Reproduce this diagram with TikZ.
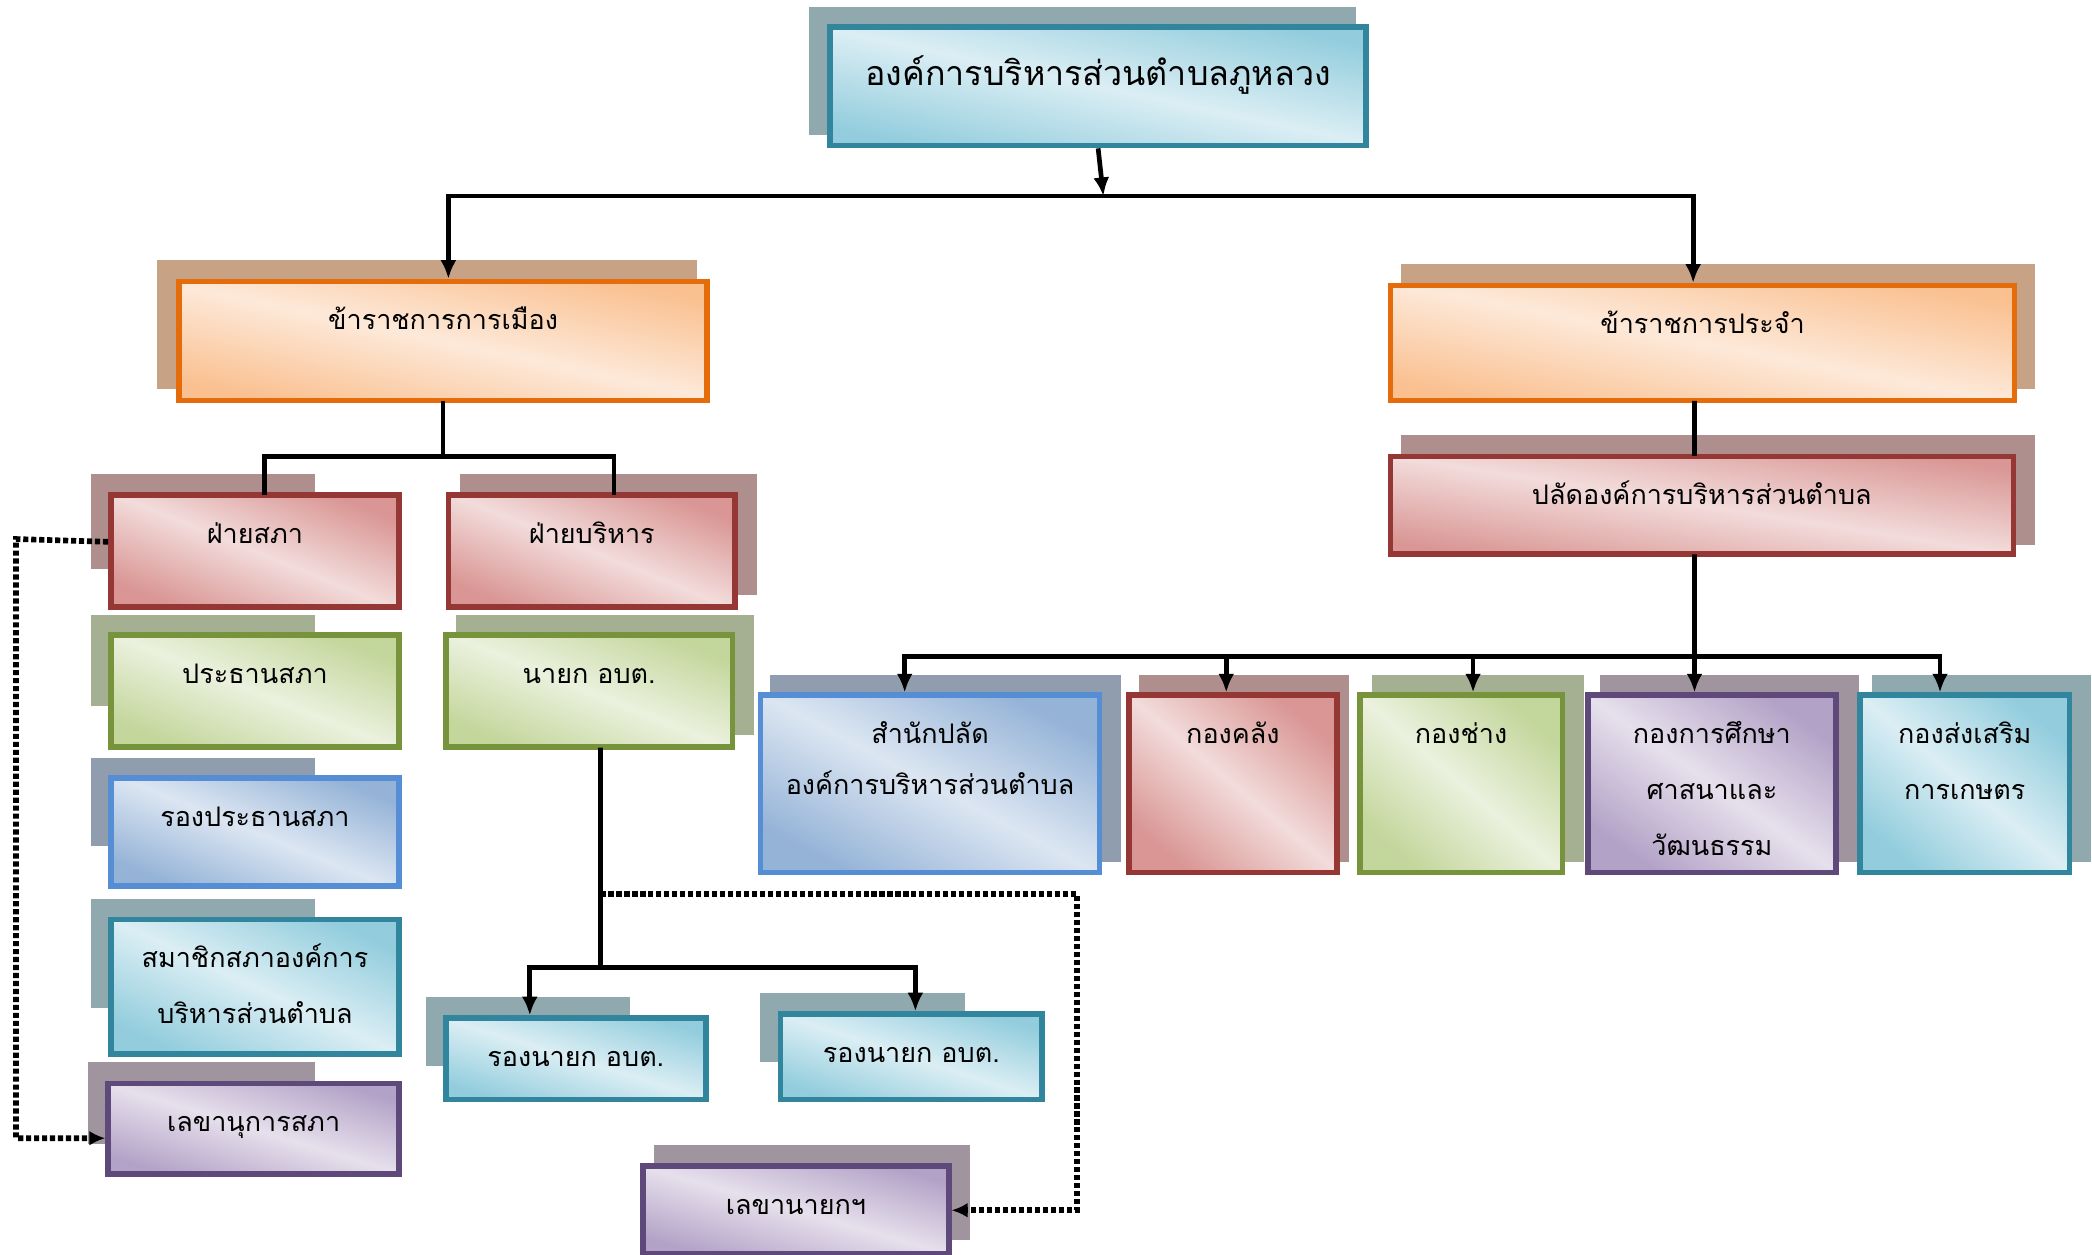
\documentclass[tikz,border=0pt]{standalone}
\usepackage{fontspec}
\newfontfamily\thaifont[Script=Thai]{Loma}
\usetikzlibrary{calc}
\usetikzlibrary{backgrounds}
\usetikzlibrary{arrows.meta}

\definecolor{tealline}{HTML}{31859C}
\definecolor{teallight}{HTML}{DBEEF4}
\definecolor{tealdark}{HTML}{93CDDD}
\definecolor{tealshadow}{HTML}{8FA9AE}
\definecolor{orangeline}{HTML}{E46C0A}
\definecolor{orangelight}{HTML}{FDE9D9}
\definecolor{orangedark}{HTML}{FAC090}
\definecolor{orangeshadow}{HTML}{C8A284}
\definecolor{redline}{HTML}{953735}
\definecolor{redlight}{HTML}{F2DCDB}
\definecolor{reddark}{HTML}{D99694}
\definecolor{redshadow}{HTML}{AE8F8E}
\definecolor{greenline}{HTML}{77933C}
\definecolor{greenlight}{HTML}{EBF1DE}
\definecolor{greendark}{HTML}{C3D69B}
\definecolor{greenshadow}{HTML}{A5AF92}
\definecolor{blueline}{HTML}{558ED5}
\definecolor{bluelight}{HTML}{DCE6F2}
\definecolor{bluedark}{HTML}{95B3D7}
\definecolor{blueshadow}{HTML}{909DAE}
\definecolor{purpleline}{HTML}{5F497A}
\definecolor{purplelight}{HTML}{E6E0EC}
\definecolor{purpledark}{HTML}{B3A2C7}
\definecolor{purpleshadow}{HTML}{A0949F}

\begin{document}
\begin{tikzpicture}[x=0.02cm, y=-0.02cm, font=\thaifont\fontsize{11.5}{24}\selectfont]
    \tikzstyle{box}=[rectangle, anchor=north west, inner sep=0pt, line width=2.4pt, align=center, text height=0.72cm]
    \tikzstyle{tealbox}=[box, draw=tealline, top color=tealdark, bottom color=tealdark, middle color=teallight, shading angle=-22]
    \tikzstyle{orangebox}=[box, draw=orangeline, top color=orangedark, bottom color=orangedark, middle color=orangelight, shading angle=-22]
    \tikzstyle{redbox}=[box, draw=redline, top color=reddark, bottom color=reddark, middle color=redlight, shading angle=-22]
    \tikzstyle{greenbox}=[box, draw=greenline, top color=greendark, bottom color=greendark, middle color=greenlight, shading angle=-22]
    \tikzstyle{bluebox}=[box, draw=blueline, top color=bluedark, bottom color=bluedark, middle color=bluelight, shading angle=-22]
    \tikzstyle{purplebox}=[box, draw=purpleline, top color=purpledark, bottom color=purpledark, middle color=purplelight, shading angle=-22]
    \tikzstyle{conn}=[line width=2pt, line cap=rect]
    \tikzstyle{arrow}=[line width=2pt, -{Latex[length=0.28cm, width=0.24cm]}]
    \tikzstyle{dotarrow}=[line width=2.4pt, dash pattern=on 2.2pt off 1.2pt, -{Latex[length=0.24cm, width=0.22cm]}]

    \useasboundingbox (0,0) rectangle (1568,940);

    % top
    \node[tealbox, shading angle=-12, text width=8.04cm, text height=0.88cm, text depth=0.9cm, font=\thaifont\fontsize{14.5}{24}\selectfont] (abt) at (620,18) {องค์การบริหารส่วนตำบลภูหลวง};
    \node[orangebox, shading angle=-12, text width=7.92cm, text depth=1.06cm] (polit) at (132,209) {ข้าราชการการเมือง};
    \node[orangebox, shading angle=-11, text width=9.36cm, text depth=1.0cm] (perm) at (1040,212) {ข้าราชการประจำ};

    % left side
    \node[redbox, text width=4.32cm, text depth=0.96cm] (sapha) at (81,369) {ฝ่ายสภา};
    \node[redbox, text width=4.3cm, text depth=0.96cm] (borihan) at (334,369) {ฝ่ายบริหาร};
    \node[greenbox, text width=4.32cm, text depth=0.96cm] (prathan) at (81,474) {ประธานสภา};
    \node[greenbox, text width=4.3cm, text depth=0.96cm] (nayok) at (332,474) {นายก อบต.};
    \node[bluebox, text width=4.32cm, text depth=0.9cm] (rongprathan) at (81,581) {รองประธานสภา};
    \node[tealbox, shading angle=-25, text width=4.32cm, text depth=1.3cm] (samachik) at (81,687) {สมาชิกสภาองค์การ\\บริหารส่วนตำบล};
    \node[purplebox, shading angle=-17, text width=4.36cm, text depth=0.64cm] (lekhasapha) at (79,810) {เลขานุการสภา};
    \node[tealbox, shading angle=-17, text width=3.9cm, text depth=0.5cm] (rongnayokA) at (332,761) {รองนายก อบต.};
    \node[tealbox, shading angle=-18, text width=3.92cm, text depth=0.56cm] (rongnayokB) at (583,758) {รองนายก อบต.};
    \node[purplebox, shading angle=-16, text width=4.58cm, text depth=0.6cm] (lekhanayok) at (480,872) {เลขานายกฯ};

    % right side
    \node[redbox, shading angle=-9, text width=9.34cm, text depth=0.74cm] (palad) at (1040,340) {ปลัดองค์การบริหารส่วนตำบล};
    \node[bluebox, shading angle=-28, text width=5.08cm, text depth=1.94cm, font=\thaifont\fontsize{11.5}{22}\selectfont] (samnak) at (568,519) {สำนักปลัด\\องค์การบริหารส่วนตำบล};
    \node[redbox, shading angle=-40, text width=3.12cm, text depth=1.94cm] (khlang) at (844,519) {กองคลัง};
    \node[greenbox, shading angle=-41, text width=3.04cm, text depth=1.94cm] (chang) at (1017,519) {กองช่าง};
    \node[purplebox, shading angle=-35, text width=3.72cm, text depth=1.94cm] (suksa) at (1188,519) {กองการศึกษา\\ศาสนาและ\\วัฒนธรรม};
    \node[tealbox, shading angle=-40, text width=3.14cm, text depth=1.94cm] (kaset) at (1392,519) {กองส่งเสริม\\การเกษตร};

    % shadows
    \begin{scope}[on background layer]
        \fill[tealshadow] ($(abt.north west)+(-14,-13)$) rectangle ($(abt.south east)+(-10,-10)$);
        \fill[orangeshadow] ($(polit.north west)+(-14,-14)$) rectangle ($(polit.south east)+(-10,-11)$);
        \fill[orangeshadow] ($(perm.north west)+(10,-14)$) rectangle ($(perm.south east)+(13,-11)$);
        \fill[redshadow] ($(sapha.north west)+(-13,-14)$) rectangle ($(sapha.south east)+(-65,-31)$);
        \fill[redshadow] ($(borihan.north west)+(11,-14)$) rectangle ($(borihan.south east)+(14,-11)$);
        \fill[greenshadow] ($(prathan.north west)+(-13,-13)$) rectangle ($(prathan.south east)+(-65,-33)$);
        \fill[greenshadow] ($(nayok.north west)+(10,-13)$) rectangle ($(nayok.south east)+(14,-11)$);
        \fill[blueshadow] ($(rongprathan.north west)+(-13,-13)$) rectangle ($(rongprathan.south east)+(-65,-32)$);
        \fill[tealshadow] ($(samachik.north west)+(-13,-13)$) rectangle ($(samachik.south east)+(-65,-37)$);
        \fill[purpleshadow] ($(lekhasapha.north west)+(-13,-14)$) rectangle ($(lekhasapha.south east)+(-65,-25)$);
        \fill[tealshadow] ($(rongnayokA.north west)+(-13,-14)$) rectangle ($(rongnayokA.south east)+(-59,-27)$);
        \fill[tealshadow] ($(rongnayokB.north west)+(-13,-14)$) rectangle ($(rongnayokB.south east)+(-60,-30)$);
        \fill[purpleshadow] ($(lekhanayok.north west)+(10,-14)$) rectangle ($(lekhanayok.south east)+(14,-13)$);
        \fill[redshadow] ($(palad.north west)+(10,-14)$) rectangle ($(palad.south east)+(14,-9)$);
        \fill[blueshadow] ($(samnak.north west)+(9,-13)$) rectangle ($(samnak.south east)+(14,-10)$);
        \fill[redshadow] ($(khlang.north west)+(10,-13)$) rectangle ($(khlang.south east)+(7,-10)$);
        \fill[greenshadow] ($(chang.north west)+(11,-13)$) rectangle ($(chang.south east)+(14,-10)$);
        \fill[purpleshadow] ($(suksa.north west)+(11,-13)$) rectangle ($(suksa.south east)+(15,-10)$);
        \fill[tealshadow] ($(kaset.north west)+(11,-13)$) rectangle ($(kaset.south east)+(14,-10)$);
    \end{scope}

    % connectors
    \coordinate (topjoin) at (827,147);
    \draw[arrow] (abt.south) -- (topjoin);
    \draw[arrow] (topjoin) -| ([xshift=0.08cm]polit.north);
    \draw[arrow] (topjoin) -| ([xshift=-0.14cm]perm.north);

    \coordinate (pjoin) at ($(polit.south)+(0,40)$);
    \draw[conn] (polit.south) -- (pjoin);
    \draw[conn] (pjoin) -| ([xshift=0.14cm]sapha.north);
    \draw[conn] (pjoin) -| ([xshift=0.33cm]borihan.north);

    \coordinate (njoin) at ($(nayok.south)+(8.5,163)$);
    \draw[conn] ([xshift=0.17cm]nayok.south) -- (njoin);
    \draw[arrow] (njoin) -| ([xshift=-0.69cm]rongnayokA.north);
    \draw[arrow] (njoin) -| ([xshift=0.06cm]rongnayokB.north);

    \coordinate (ndot) at ($(njoin)+(0,-55)$);
    \coordinate (nright) at (807,669);
    \draw[dotarrow] (ndot) -- (ndot -| nright) |- (lekhanayok.east);

    \coordinate (sleft) at (12,404);
    \draw[dotarrow] ([yshift=0.14cm]sapha.west) -- (sleft) |- ([yshift=-0.14cm]lekhasapha.west);

    \draw[conn] ([xshift=-0.12cm]perm.south) -- ([xshift=-0.11cm]palad.north);
    \coordinate (bjoin) at ($(palad.south)+(-5.5,75)$);
    \draw[conn] ([xshift=-0.11cm]palad.south) -- (bjoin);
    \draw[arrow] (bjoin) -| ([xshift=-0.38cm]samnak.north);
    \draw[arrow] (bjoin) -| ([xshift=-0.1cm]khlang.north);
    \draw[arrow] (bjoin) -| ([xshift=0.18cm]chang.north);
    \draw[arrow] (bjoin) -| (bjoin |- suksa.north);
    \draw[arrow] (bjoin) -| ([xshift=-0.37cm]kaset.north);
\end{tikzpicture}
\end{document}
